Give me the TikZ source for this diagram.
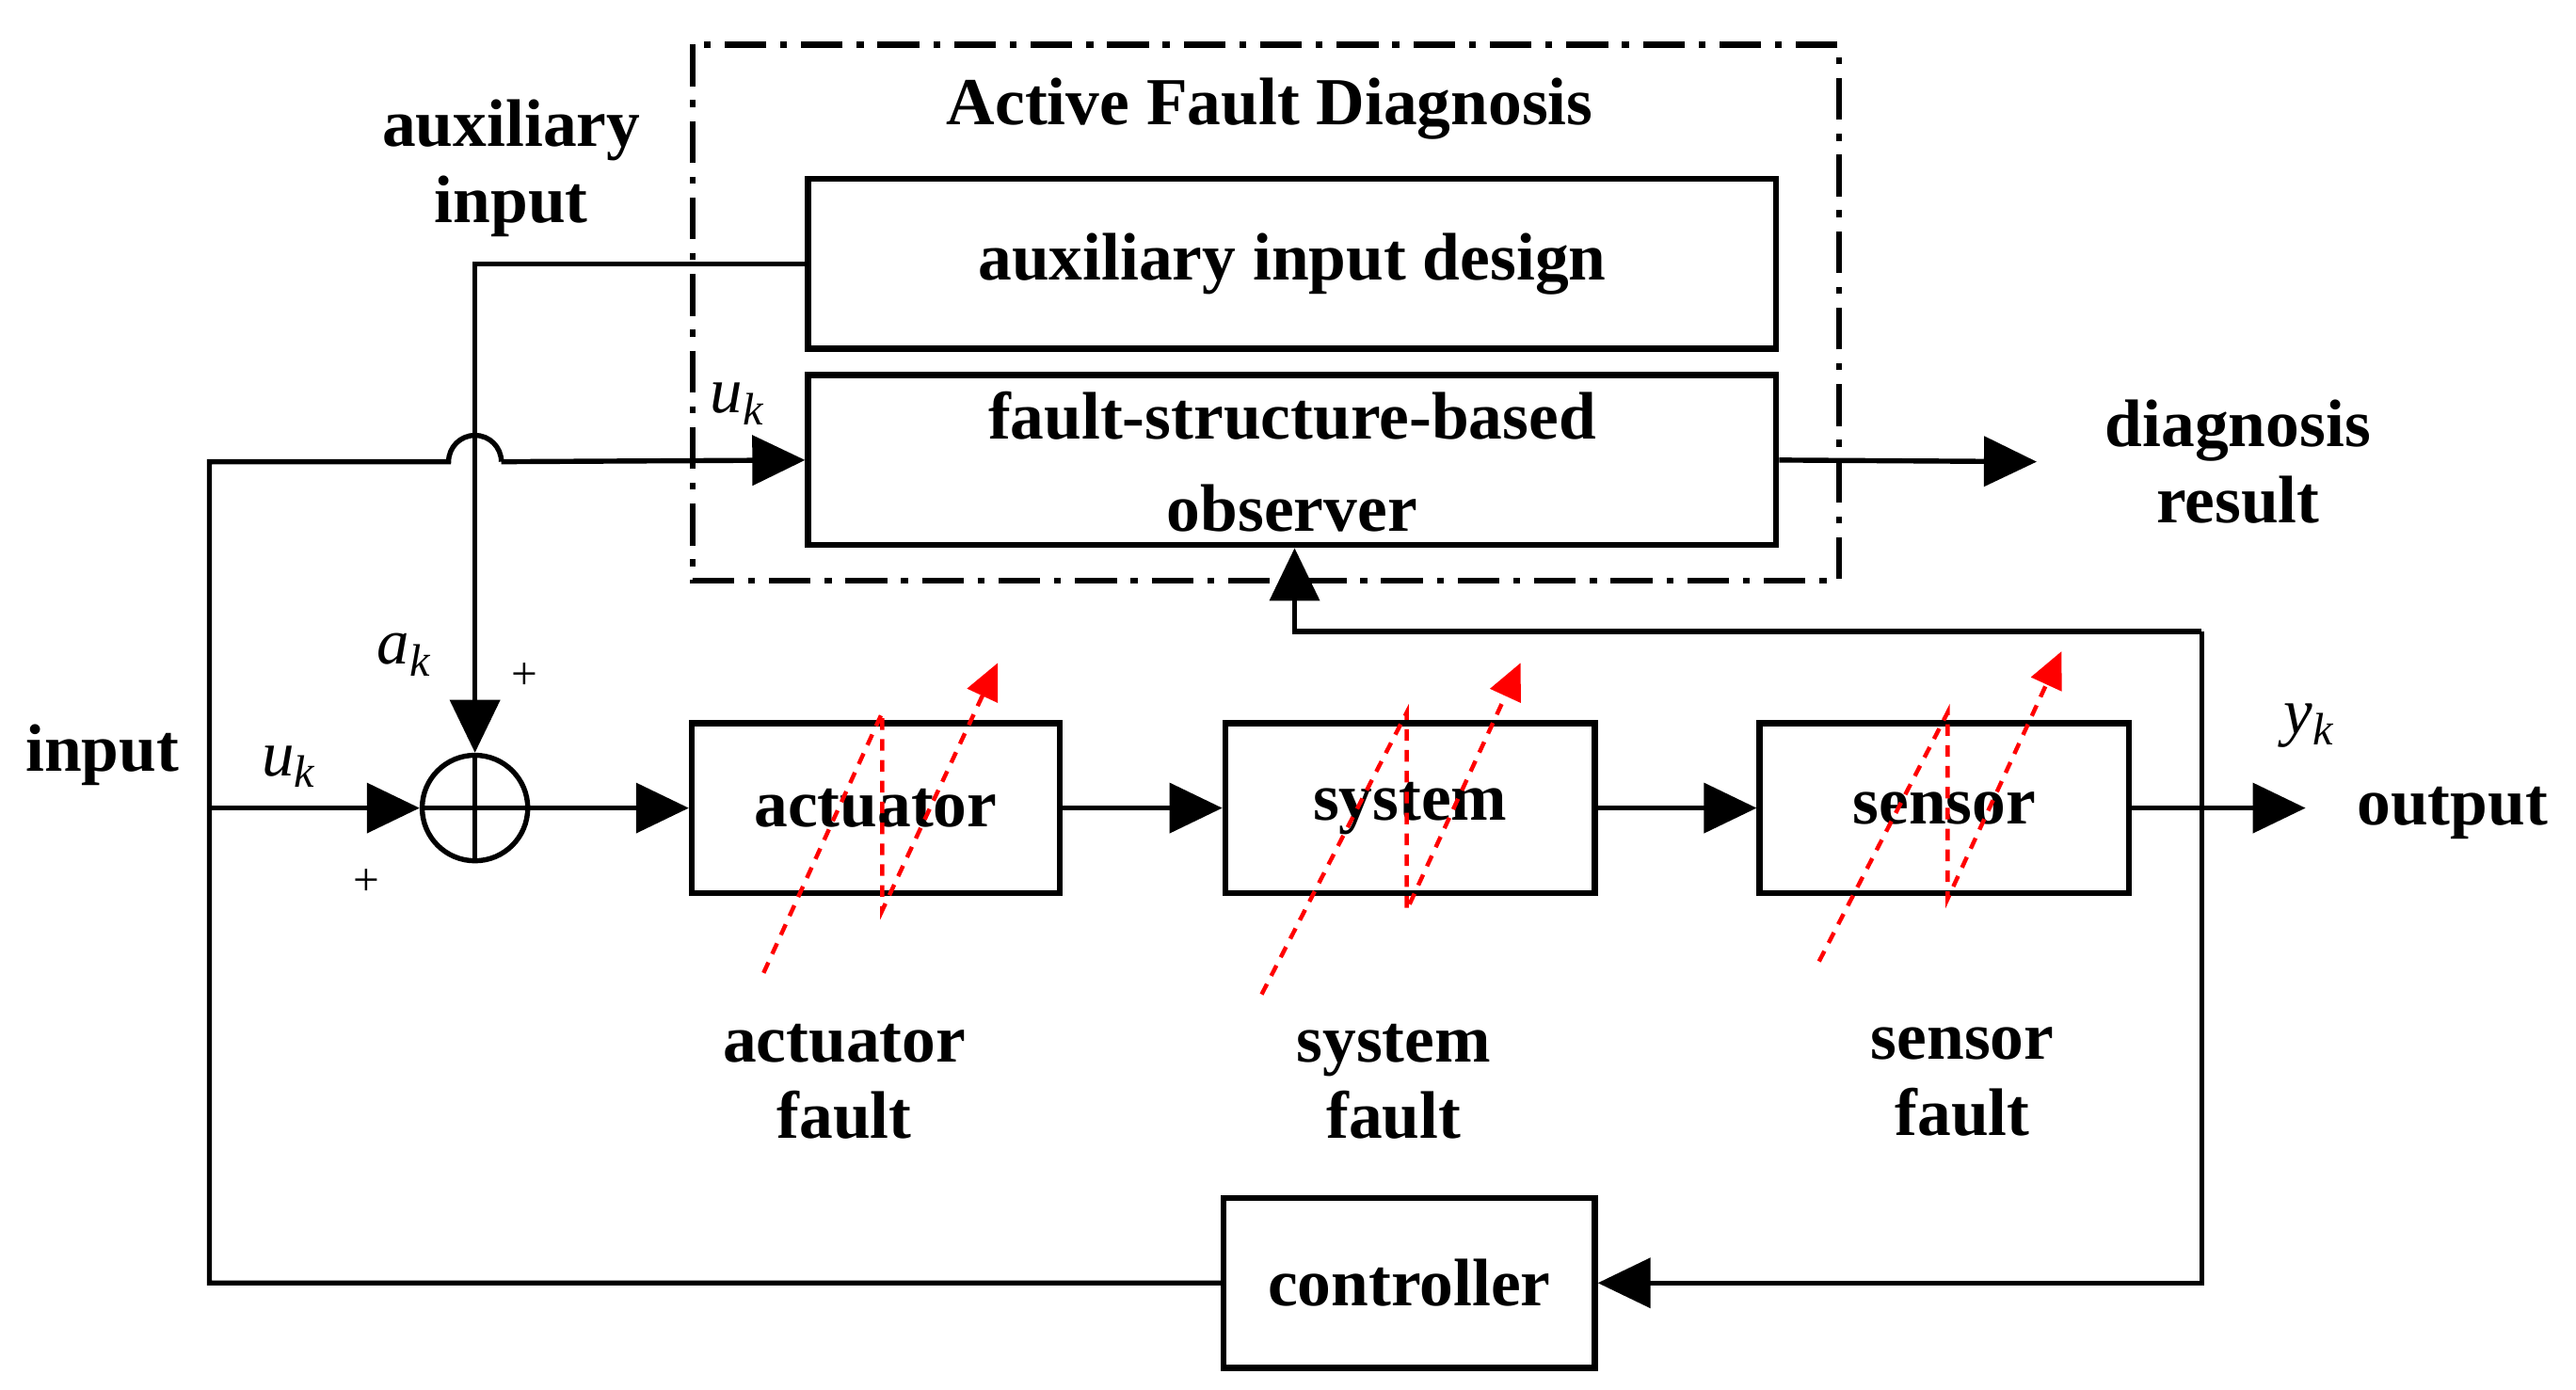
\documentclass[tikz,border=0pt]{standalone}
\usepackage{fontspec}
\setmainfont{Liberation Serif}
\usetikzlibrary{arrows.meta}
\newcommand{\myvar}[2]{\itshape #1\textsubscript{#2}}
\begin{document}
\begin{tikzpicture}[x=0.025cm,y=-0.025cm,
  line width=2.2pt,
  box/.style={draw,line width=2.6pt,minimum width=0.025cm*#1,minimum height=2.575cm,inner sep=0},
  lab/.style={font=\fontsize{29}{35}\selectfont\bfseries,align=center},
  mlab/.style={font=\fontsize{28}{32}\selectfont},
  arr/.style={-{Triangle[length=0.8cm,width=0.75cm]}},
  fault/.style={red,dashed,line width=1.8pt,dash pattern=on 5pt off 4pt,-{Triangle[length=0.55cm,width=0.5cm]}}]
\useasboundingbox (0,0) rectangle (1562,842.4);
% active fault diagnosis box
\draw[line width=2.6pt,dash pattern=on 18pt off 6pt on 3pt off 6pt] (420,27) rectangle (1115,352);
\node[lab] (afd) at (770,66) {Active Fault Diagnosis};
\node[box=587] (aid) at (783.5,160) {};
\node[lab] at (aid) {auxiliary input design};
\node[box=587] (obs) at (783.5,279) {};
\node[lab,text depth=0pt] at (783.5,252) {fault-structure-based};
\node[lab] at (783.5,308) {observer};
\node[lab] (diag) at (1357,280) {diagnosis\\[-2pt]result};
\draw[arr] (obs.east) -- (1235,280);
% blocks
\node[box=223] (act) at (531,490) {};
\node[lab] at (act) {actuator};
\node[box=224] (sys) at (855,490) {};
\node[lab] at (sys) {system};
\node[box=224] (sen) at (1179,490) {};
\node[lab] at (sen) {sensor};
\node[box=225] (ctl) at (854.5,778) {};
\node[lab] at (ctl) {controller};
\node[draw,circle,minimum size=1.6cm,inner sep=0,line width=2.2pt] (sum) at (288,490) {};
\draw (sum.north) -- (sum.south) (sum.west) -- (sum.east);
% labels
\node[lab] at (310,102) {auxiliary\\[-2pt]input};
\node[lab] at (62,458) {input};
\node[lab] at (1487,493) {output};
\node[mlab] at (447,245) {\myvar{u}{k}};
\node[mlab] at (245,397) {\myvar{a}{k}};
\node[mlab] at (175,465) {\myvar{u}{k}};
\node[mlab] at (1400,440) {\myvar{y}{k}};
\node[font=\fontsize{20}{24}\selectfont] at (318,410) {+};
\node[font=\fontsize{20}{24}\selectfont] at (222,535) {+};
\node[lab] at (512,656) {actuator\\[-2pt]fault};
\node[lab] at (845,656) {system\\[-2pt]fault};
\node[lab] at (1190,656) {sensor\\[-2pt]fault};
% connections
\coordinate (fb) at (127,490);
\draw[arr] (fb) -- (sum.west);
\draw[arr] (sum.east) -- (act.west);
\draw[arr] (act.east) -- (sys.west);
\draw[arr] (sys.east) -- (sen.west);
\draw[arr] (sen.east) -- (1398,490);
\draw[arr] (1335,383) -- (1335,778) -- (ctl.east);
\draw (ctl.west) -- (127,778) -- (127,280) -- (272,280) arc (180:360:16) -- (304,280);
\draw[arr] (304,280) -- (obs.west);
\draw[arr] (aid.west) -- (288,160) -- (sum.north);
\draw[arr] (1335,383) -- (785,383) -- (obs.south-|785,0);
% faults
\draw[fault] (463,590) -- (535,432) -- (535,552) -- (605,402);
\draw[fault] (765,603) -- (853,432) -- (853,552) -- (922,402);
\draw[fault] (1103,583) -- (1181,432) -- (1181,545) -- (1250,395);
\end{tikzpicture}
\end{document}
